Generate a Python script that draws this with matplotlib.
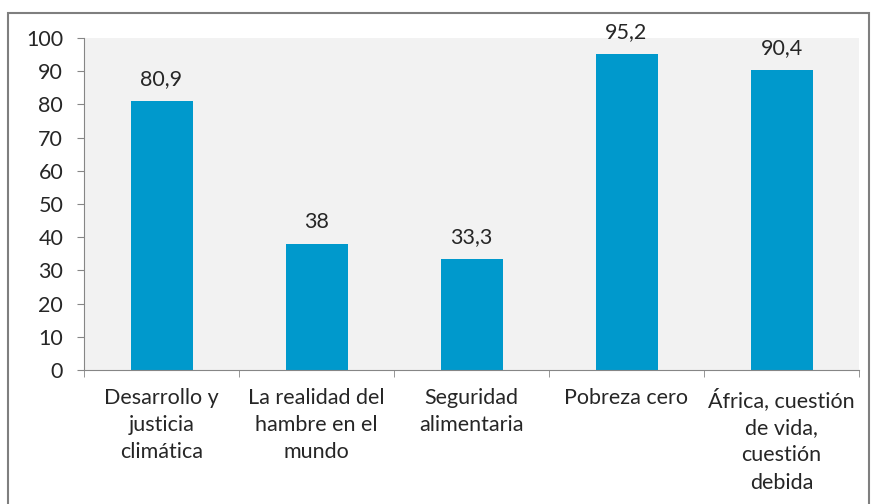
import matplotlib.pyplot as plt
from matplotlib.patches import Rectangle

categorias = ['Desarrollo y\njusticia\nclimática', 'La realidad del\nhambre en el\nmundo',
              'Seguridad\nalimentaria', 'Pobreza cero',
              'África, cuestión\nde vida,\ncuestión\ndebida']
valores = [80.9, 38, 33.3, 95.2, 90.4]
etiquetas = ['80,9', '38', '33,3', '95,2', '90,4']
yticks = [0, 10, 20, 30, 40, 50, 60, 70, 80, 90, 100]

plt.rcParams['font.family'] = ['Lato', 'DejaVu Sans']
gris = '#868686'
texto = '#262626'
fs = 15.5

fig = plt.figure(figsize=(8.74, 5.04), dpi=100)
ax = fig.add_axes([84 / 874, 1 - 370 / 504, 775 / 874, 332 / 504])
ax.set_facecolor('#f2f2f2')

x = range(len(valores))
barras = ax.bar(x, valores, width=0.4, color='#0099cc', zorder=2)
for b, t in zip(barras, etiquetas):
    ax.annotate(t, (b.get_x() + b.get_width() / 2, b.get_height()),
                xytext=(0, 11.5), textcoords='offset points',
                ha='center', va='baseline', fontsize=fs, color=texto)

ax.set_xlim(-0.5, len(valores) - 0.5)
ax.set_ylim(0, 100)
ax.set_yticks(yticks)
ax.tick_params(axis='y', labelsize=fs, colors=gris, labelcolor=texto,
               length=5, direction='out', pad=10)

# etiquetas de categoria sin marcas, marcas entre categorias
ax.set_xticks(list(x))
ax.set_xticklabels(categorias, fontsize=fs, color=texto, linespacing=1.45, va='top')
ax.tick_params(axis='x', length=0, pad=13)
ax.set_xticks([i + 0.5 for i in range(-1, len(valores))], minor=True)
ax.tick_params(axis='x', which='minor', length=5, color=gris, direction='out')

for s in ['top', 'right']:
    ax.spines[s].set_visible(False)
for s in ['left', 'bottom']:
    ax.spines[s].set_color(gris)

# marco del grafico
fig.patches.append(Rectangle((8 / 874, -0.1), 861 / 874, 1.1 - 13 / 504,
                             transform=fig.transFigure, fill=False,
                             edgecolor='#7f7f7f', linewidth=1.5))

fig.savefig('out.png', dpi=100)
